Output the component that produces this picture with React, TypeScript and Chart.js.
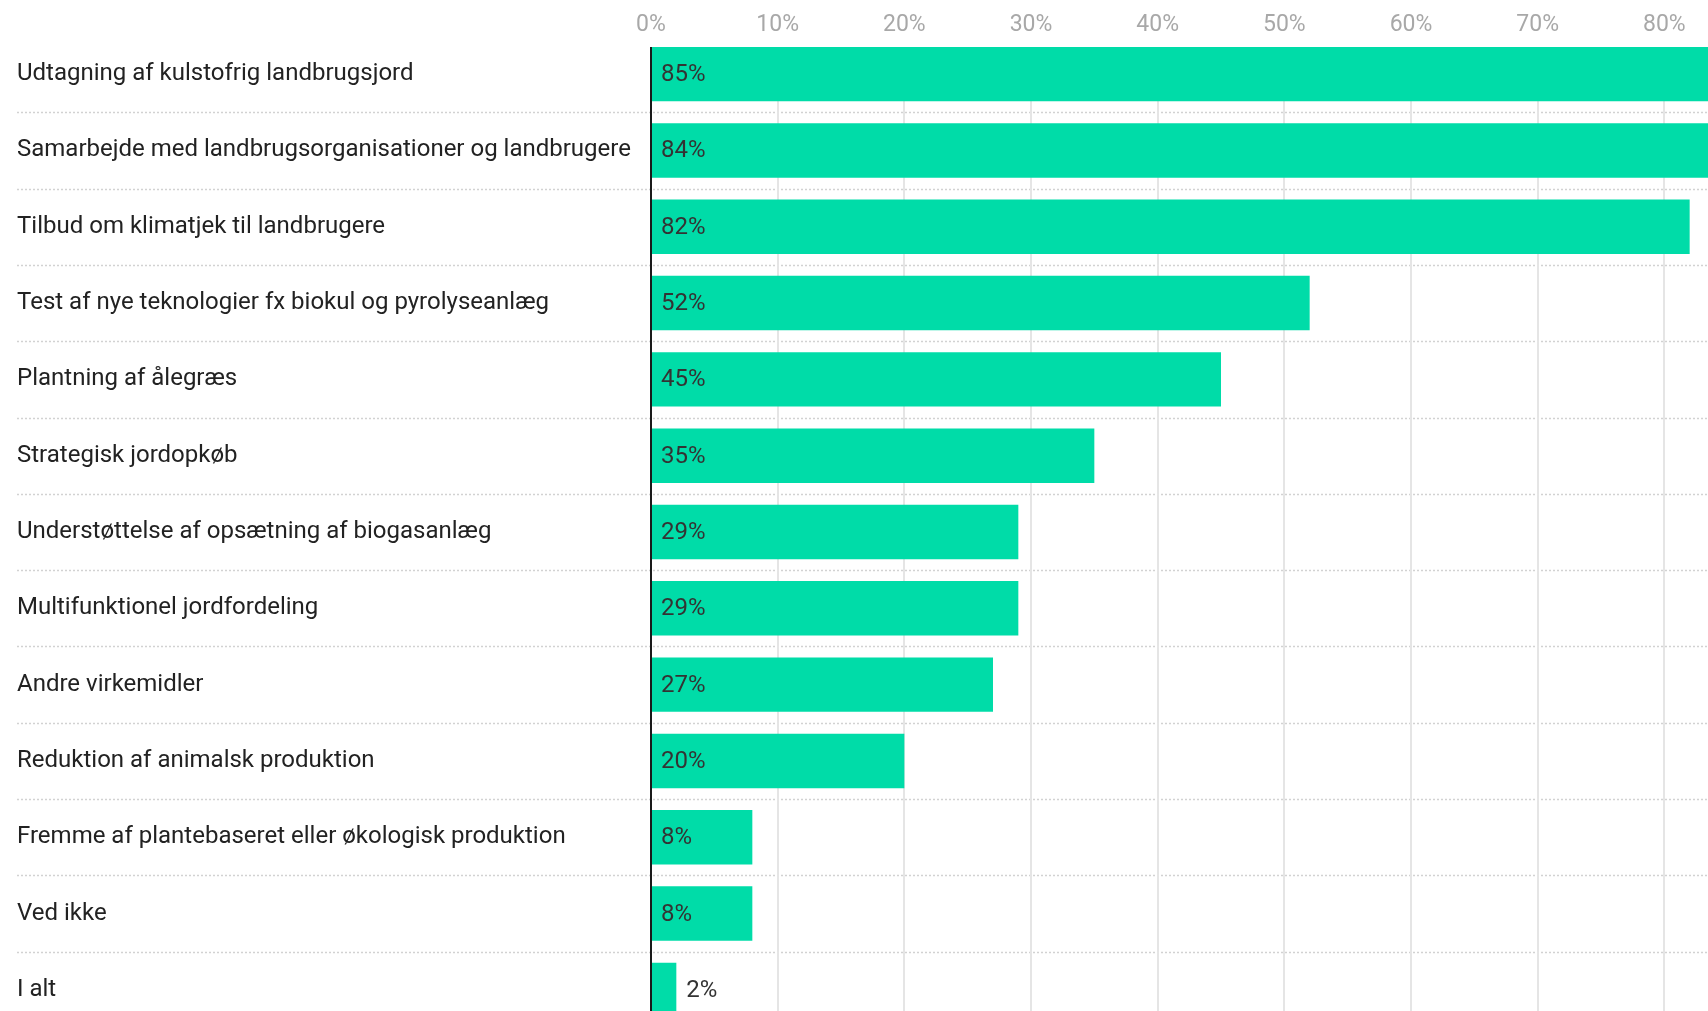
import React, { useEffect, useRef } from "react";
import { Chart, registerables } from "chart.js";

Chart.register(...registerables);

const categories: string[] = [
  "Udtagning af kulstofrig landbrugsjord",
  "Samarbejde med landbrugsorganisationer og landbrugere",
  "Tilbud om klimatjek til landbrugere",
  "Test af nye teknologier fx biokul og pyrolyseanlæg",
  "Plantning af ålegræs",
  "Strategisk jordopkøb",
  "Understøttelse af opsætning af biogasanlæg",
  "Multifunktionel jordfordeling",
  "Andre virkemidler",
  "Reduktion af animalsk produktion",
  "Fremme af plantebaseret eller økologisk produktion",
  "Ved ikke",
  "I alt",
];

const values: number[] = [85, 84, 82, 52, 45, 35, 29, 29, 27, 20, 8, 8, 2];

const xTickValues: number[] = [0, 10, 20, 30, 40, 50, 60, 70, 80, 90];

const BAR_COLOR = "#00dca8";
const FONT = "Roboto";

const decorPlugin = {
  id: "decor",
  beforeDatasetsDraw(chart: any) {
    const { ctx, chartArea, scales } = chart;
    const x = scales.x;
    const y = scales.y;
    const meta = chart.getDatasetMeta(0);
    const first: any = meta.data[0];
    const top = first.y - first.height / 2;
    ctx.save();
    // dotted row separators
    ctx.strokeStyle = "#d2d2d2";
    ctx.lineWidth = 1.5;
    ctx.setLineDash([2, 2]);
    for (let i = 0; i < categories.length - 1; i++) {
      const yy = Math.round((y.getPixelForValue(i) + y.getPixelForValue(i + 1)) / 2) + 0.5;
      ctx.beginPath();
      ctx.moveTo(y.left, yy);
      ctx.lineTo(chartArea.right, yy);
      ctx.stroke();
    }
    ctx.setLineDash([]);
    // vertical grid
    ctx.strokeStyle = "#e5e5e5";
    ctx.lineWidth = 2;
    x.ticks.forEach((t: any) => {
      if (t.value === 0) return;
      const px = Math.round(x.getPixelForValue(t.value));
      ctx.beginPath();
      ctx.moveTo(px, top);
      ctx.lineTo(px, chartArea.bottom);
      ctx.stroke();
    });
    ctx.restore();
  },
  afterDatasetsDraw(chart: any) {
    const { ctx, chartArea, scales } = chart;
    const x = scales.x;
    const meta = chart.getDatasetMeta(0);
    const first: any = meta.data[0];
    const top = first.y - first.height / 2;
    ctx.save();
    // zero axis line
    const x0 = Math.round(x.getPixelForValue(0));
    ctx.strokeStyle = "#1a1a1a";
    ctx.lineWidth = 2;
    ctx.beginPath();
    ctx.moveTo(x0, top);
    ctx.lineTo(x0, chartArea.bottom);
    ctx.stroke();
    // value labels
    ctx.font = `24px ${FONT}`;
    ctx.fillStyle = "#333333";
    ctx.textBaseline = "middle";
    ctx.textAlign = "left";
    meta.data.forEach((bar: any, i: number) => {
      const label = `${values[i]}%`;
      const w = ctx.measureText(label).width;
      const barW = bar.x - bar.base;
      const pad = 10;
      const tx = w + pad * 2 < barW ? bar.base + pad : bar.x + pad;
      ctx.fillText(label, tx, bar.y + 1);
    });
    ctx.restore();
  },
};

export default function App() {
  const canvasRef = useRef<HTMLCanvasElement | null>(null);

  useEffect(() => {
    document.body.style.margin = "0";
    document.body.style.background = "#ffffff";
    const canvas = canvasRef.current;
    if (!canvas) return;
    const chart = new Chart(canvas, {
      type: "bar",
      data: {
        labels: categories,
        datasets: [
          {
            data: values,
            backgroundColor: BAR_COLOR,
            borderWidth: 0,
            barPercentage: 0.713,
            categoryPercentage: 1,
          },
        ],
      },
      options: {
        indexAxis: "y",
        responsive: false,
        animation: false,
        devicePixelRatio: 1,
        layout: { padding: { left: 17, top: 0, right: 0, bottom: 0 } },
        plugins: {
          legend: { display: false },
          tooltip: { enabled: false },
        },
        scales: {
          x: {
            position: "top",
            min: 0,
            max: 90,
            afterBuildTicks: (scale: any) => {
              scale.ticks = xTickValues.map((v) => ({ value: v }));
            },
            grid: { display: false, drawTicks: false },
            border: { display: false },
            ticks: {
              padding: -3,
              color: "#a8a8a8",
              font: { family: FONT, size: 23, lineHeight: 1.2 },
              callback: (v: any) => `${v}%`,
            },
            afterFit: (scale: any) => {
              scale.height = 36;
              scale.paddingLeft = 0;
              scale.paddingRight = 0;
              scale.paddingTop = 0;
              scale.paddingBottom = 0;
            },
          },
          y: {
            grid: { display: false, drawTicks: false },
            border: { display: false },
            ticks: {
              crossAlign: "far",
              color: "#222222",
              font: { family: FONT, size: 24 },
            },
            afterFit: (scale: any) => {
              scale.width = 634;
              scale.paddingTop = 0;
              scale.paddingBottom = 0;
              scale.paddingLeft = 0;
              scale.paddingRight = 0;
            },
          },
        },
      },
      plugins: [decorPlugin],
    });
    return () => chart.destroy();
  }, []);

  return (
    <div style={{ width: 1708, height: 1011, overflow: "hidden", position: "relative", background: "#fff" }}>
      <canvas ref={canvasRef} width={1791} height={1028} style={{ display: "block" }} />
    </div>
  );
}
